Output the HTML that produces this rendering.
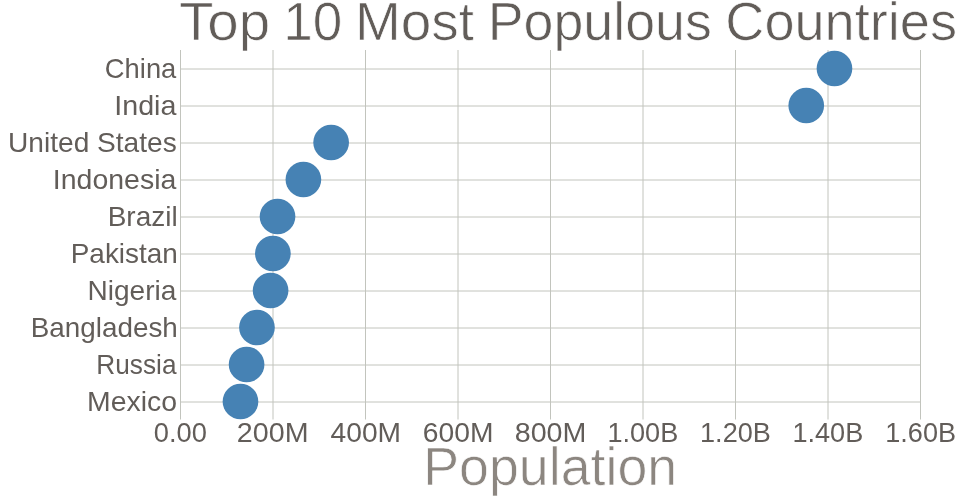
<!DOCTYPE html>
<html lang="en">
<head>
<meta charset="utf-8">
<title>Top 10 Most Populous Countries</title>
<style>
html,body{margin:0;padding:0;background:#fff;}
body{width:960px;height:500px;overflow:hidden;}
svg{display:block;}
text{font-family:"Liberation Sans",sans-serif;}
</style>
</head>
<body>
<svg width="960" height="500" viewBox="0 0 960 500">
<rect width="960" height="500" fill="#fff"/>
<g class="grid" stroke="#c2c4bd" stroke-width="1" fill="none">
<line x1="180.5" y1="69" x2="920.5" y2="69"/>
<line x1="180.5" y1="106" x2="920.5" y2="106"/>
<line x1="180.5" y1="143" x2="920.5" y2="143"/>
<line x1="180.5" y1="180" x2="920.5" y2="180"/>
<line x1="180.5" y1="217" x2="920.5" y2="217"/>
<line x1="180.5" y1="254" x2="920.5" y2="254"/>
<line x1="180.5" y1="291" x2="920.5" y2="291"/>
<line x1="180.5" y1="328" x2="920.5" y2="328"/>
<line x1="180.5" y1="365" x2="920.5" y2="365"/>
<line x1="180.5" y1="402" x2="920.5" y2="402"/>
<line x1="180.5" y1="50" x2="180.5" y2="419.5"/>
<line x1="273" y1="50" x2="273" y2="419.5"/>
<line x1="365.5" y1="50" x2="365.5" y2="419.5"/>
<line x1="458" y1="50" x2="458" y2="419.5"/>
<line x1="550.5" y1="50" x2="550.5" y2="419.5"/>
<line x1="643" y1="50" x2="643" y2="419.5"/>
<line x1="735.5" y1="50" x2="735.5" y2="419.5"/>
<line x1="828" y1="50" x2="828" y2="419.5"/>
<line x1="920.5" y1="50" x2="920.5" y2="419.5"/>
</g>
<g class="marks" fill="#4682b4">
<circle cx="834.46" cy="68.5" r="17.84"/>
<circle cx="806.25" cy="105.5" r="17.84"/>
<circle cx="331.13" cy="142.5" r="17.84"/>
<circle cx="303.39" cy="179.5" r="17.84"/>
<circle cx="277.53" cy="216.5" r="17.84"/>
<circle cx="272.88" cy="253.5" r="17.84"/>
<circle cx="270.59" cy="290.5" r="17.84"/>
<circle cx="256.95" cy="327.5" r="17.84"/>
<circle cx="246.58" cy="364.5" r="17.84"/>
<circle cx="240.48" cy="401.5" r="17.84"/>
</g>
<text class="title" y="39.6" fill="#625d59" font-size="53.5" stroke="#fff" stroke-width="0.7"><tspan x="179.02" textLength="91.14" lengthAdjust="spacingAndGlyphs">Top</tspan> <tspan x="283.23" textLength="59.06" lengthAdjust="spacingAndGlyphs">10</tspan> <tspan x="354.92" textLength="119.09" lengthAdjust="spacingAndGlyphs">Most</tspan> <tspan x="487.73" textLength="224.13" lengthAdjust="spacingAndGlyphs">Populous</tspan> <tspan x="725.37" textLength="231.58" lengthAdjust="spacingAndGlyphs">Countries</tspan></text>
<g class="ylabels" fill="#625d59" font-size="28">
<text x="104.83" y="77.9" textLength="71.49" lengthAdjust="spacingAndGlyphs">China</text>
<text x="114.24" y="114.9" textLength="62.13" lengthAdjust="spacingAndGlyphs">India</text>
<text x="8.04" y="151.9" textLength="168.72" lengthAdjust="spacingAndGlyphs">United States</text>
<text x="52.86" y="188.9" textLength="123.48" lengthAdjust="spacingAndGlyphs">Indonesia</text>
<text x="107.65" y="225.9" textLength="70.02" lengthAdjust="spacingAndGlyphs">Brazil</text>
<text x="70.76" y="262.9" textLength="107.04" lengthAdjust="spacingAndGlyphs">Pakistan</text>
<text x="87.44" y="299.9" textLength="88.91" lengthAdjust="spacingAndGlyphs">Nigeria</text>
<text x="30.76" y="336.9" textLength="147.03" lengthAdjust="spacingAndGlyphs">Bangladesh</text>
<text x="96.29" y="373.9" textLength="80.20" lengthAdjust="spacingAndGlyphs">Russia</text>
<text x="87.12" y="410.9" textLength="90.00" lengthAdjust="spacingAndGlyphs">Mexico</text>
</g>
<g class="xlabels" fill="#625d59" font-size="28">
<text x="153.83" y="441.7" textLength="53.05" lengthAdjust="spacingAndGlyphs">0.00</text>
<text x="236.86" y="441.7" textLength="71.69" lengthAdjust="spacingAndGlyphs">200M</text>
<text x="330.60" y="441.7" textLength="70.46" lengthAdjust="spacingAndGlyphs">400M</text>
<text x="422.89" y="441.7" textLength="70.63" lengthAdjust="spacingAndGlyphs">600M</text>
<text x="514.72" y="441.7" textLength="71.63" lengthAdjust="spacingAndGlyphs">800M</text>
<text x="607.46" y="441.7" textLength="70.81" lengthAdjust="spacingAndGlyphs">1.00B</text>
<text x="700.07" y="441.7" textLength="70.71" lengthAdjust="spacingAndGlyphs">1.20B</text>
<text x="792.46" y="441.7" textLength="70.81" lengthAdjust="spacingAndGlyphs">1.40B</text>
<text x="885.27" y="441.7" textLength="70.71" lengthAdjust="spacingAndGlyphs">1.60B</text>
</g>
<text class="xtitle" x="423.18" y="485.0" textLength="254.00" lengthAdjust="spacingAndGlyphs" fill="#8c8680" font-size="53" stroke="#fff" stroke-width="0.7">Population</text>
</svg>
</body>
</html>
